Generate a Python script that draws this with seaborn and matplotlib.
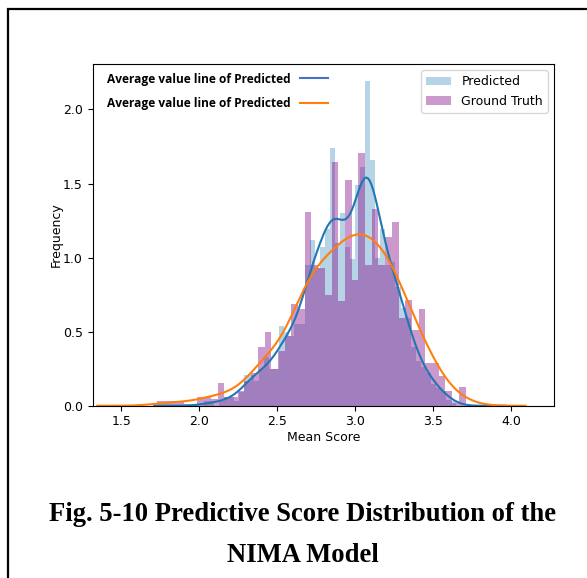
import numpy as np
import pandas as pd
import matplotlib
matplotlib.use("Agg")
import matplotlib.pyplot as plt
from matplotlib.lines import Line2D
from matplotlib.patches import Rectangle
import seaborn as sns

# ---------------------------
# data (density heights per bin)
# ---------------------------
gt_range = (1.73, 3.708)
gt_heights = [0.03, 0.03, 0.03, 0.03, 0.015, 0.015, 0.06, 0.06, 0.045, 0.155,
              0.06, 0.06, 0.10, 0.17, 0.22, 0.40, 0.495, 0.25, 0.37, 0.47,
              0.684, 0.65, 1.305, 0.95, 0.93, 0.75, 1.646, 0.71, 1.523, 0.85,
              1.707, 0.95, 1.33, 0.95, 1.14, 1.24, 0.59, 0.713, 0.51, 0.65,
              0.286, 0.286, 0.20, 0.10, 0.02, 0.125]

pred_range = (2.027, 3.647)
pred_heights = [0.03, 0.03, 0.0, 0.03, 0.06, 0.06, 0.03, 0.09, 0.21, 0.21,
                0.17, 0.25, 0.33, 0.25, 0.25, 0.54, 0.50, 0.47, 0.55, 0.55,
                0.95, 1.12, 0.93, 1.07, 1.19, 1.74, 1.10, 1.30, 1.07, 0.99,
                1.49, 1.61, 2.19, 1.66, 1.00, 1.19, 0.95, 0.97, 0.80, 0.66,
                0.59, 0.40, 0.30, 0.26, 0.22, 0.15, 0.12, 0.10, 0.04, 0.03]

x_ticks = [1.5, 2.0, 2.5, 3.0, 3.5, 4.0]
y_ticks = [0.0, 0.5, 1.0, 1.5, 2.0]
line_labels = ["Average value line of Predicted", "Average value line of Predicted"]
caption = ["Fig. 5-10 Predictive Score Distribution of the", "NIMA Model"]

gt_edges = np.linspace(gt_range[0], gt_range[1], len(gt_heights) + 1)
pred_edges = np.linspace(pred_range[0], pred_range[1], len(pred_heights) + 1)
gt_df = pd.DataFrame({"score": (gt_edges[:-1] + gt_edges[1:]) / 2, "h": gt_heights})
pred_df = pd.DataFrame({"score": (pred_edges[:-1] + pred_edges[1:]) / 2, "h": pred_heights})

# ---------------------------
# figure
# ---------------------------
fig = plt.figure(figsize=(5.87, 5.78), dpi=100)
ax = fig.add_axes([0.158, 0.298, 0.786, 0.591])

sns.histplot(data=pred_df, x="score", weights="h", bins=list(pred_edges), stat="count",
             color="#1f77b4", alpha=0.32, linewidth=0, label="Predicted", ax=ax)
sns.histplot(data=gt_df, x="score", weights="h", bins=list(gt_edges), stat="count",
             color="purple", alpha=0.4, linewidth=0, label="Ground Truth", ax=ax)

sns.kdeplot(data=pred_df, x="score", weights="h", bw_method=0.235, cut=3,
            color="#1f77b4", linewidth=1.5, ax=ax)
sns.kdeplot(data=gt_df, x="score", weights="h", bw_method=0.32, cut=2.2,
            color="#ff7f0e", linewidth=1.5, ax=ax)

ax.set_xlim(1.316, 4.276)
ax.set_ylim(0, 2.306)
ax.set_xticks(x_ticks)
ax.set_yticks(y_ticks)
ax.tick_params(labelsize=9)
ax.set_xlabel("Mean Score", fontsize=9, labelpad=2)
ax.set_ylabel("Frequency", fontsize=9, labelpad=0)

leg1 = ax.legend(loc="upper right", fontsize=9)
ax.add_artist(leg1)

handles = [Line2D([], [], color="#4472c4", linewidth=1.5),
           Line2D([], [], color="#ff7f0e", linewidth=1.5)]
ax.legend(handles, line_labels, loc="upper left", bbox_to_anchor=(0.013, 1.0),
          frameon=False, markerfirst=False,
          prop={"family": "Open Sans", "weight": "bold", "size": 8.6},
          handlelength=2.3, handletextpad=0.8, labelspacing=0.95, borderaxespad=0.3)

fig.text(0.516, 0.0986, caption[0], ha="center", va="baseline", family="Liberation Serif",
         weight="bold", fontsize=19.2)
fig.text(0.516, 0.0284, caption[1], ha="center", va="baseline", family="Liberation Serif",
         weight="bold", fontsize=19.2)

fig.patches.append(Rectangle((0.0128, -0.05), 1.1, 1.034, transform=fig.transFigure,
                             fill=False, edgecolor="black", linewidth=1.6))

fig.savefig("out.png", dpi=100)
